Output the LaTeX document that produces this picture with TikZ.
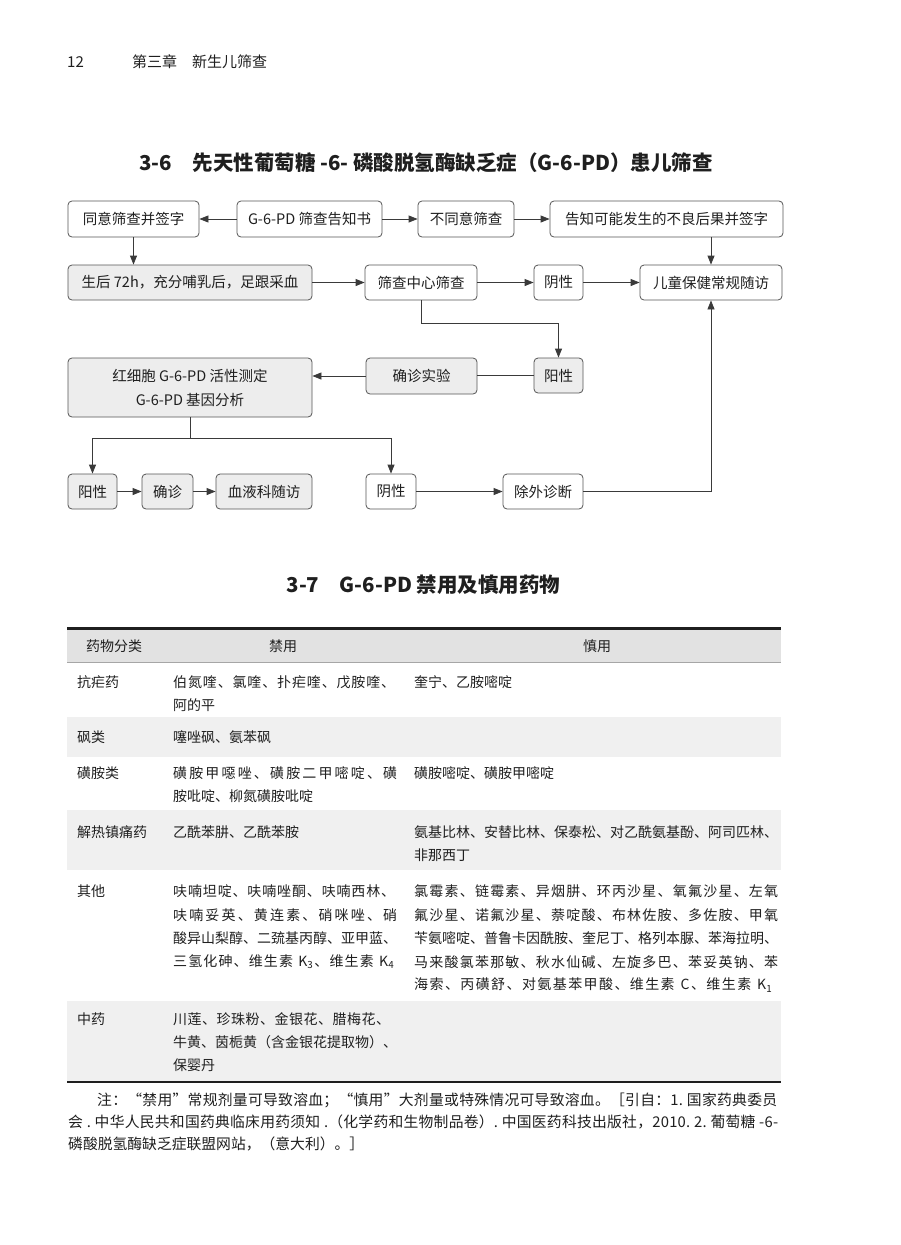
\documentclass[tikz,border=0pt]{standalone}
\usepackage{fontspec}
\setmainfont{Noto Sans CJK SC}
\usepackage{graphicx}
\usetikzlibrary{arrows.meta}
\definecolor{boxline}{HTML}{555555}
\definecolor{boxfill}{HTML}{EDEDED}
\definecolor{arrc}{HTML}{3A3A3A}
\definecolor{txt}{HTML}{1F1F1F}
\definecolor{hdrfill}{HTML}{E2E2E2}
\definecolor{rowfill}{HTML}{F0F0F0}
\newcommand{\fs}[1]{\fontsize{#1}{#1}\selectfont}
\makeatletter
\newcommand{\spreadto}[2]{\makebox[#1][s]{\spr@a#2\relax}}
\def\spr@a#1{#1\spr@b}
\def\spr@b#1{\ifx\relax#1\else\hfill#1\expandafter\spr@b\fi}
\makeatother
\tikzset{
  box/.style={draw=boxline, line width=0.8pt, rounded corners=4pt, fill=white, inner sep=0pt, text=txt, font=\fs{14.5}},
  gbox/.style={box, fill=boxfill},
  arr/.style={draw=arrc, line width=0.8pt, -{Triangle[length=9pt,width=7pt]}},
  ln/.style={draw=arrc, line width=0.8pt},
  cell/.style={anchor=west, inner sep=0pt, text=txt, font=\fs{14}},
  ccell/.style={anchor=center, inner sep=0pt, text=txt, font=\fs{14}},
  note/.style={anchor=west, inner sep=0pt, text=txt, font=\fs{14.8}},
  ttl/.style={inner sep=0pt, text=txt, font=\bfseries\fs{20.5}}
}
\begin{document}
\begin{tikzpicture}[x=1pt,y=-1pt]
\useasboundingbox (0,0) rectangle (900,1245);
\fill[white] (0,0) rectangle (900,1245);

% page header
\node[anchor=west, inner sep=0pt, text=txt, font=\fs{15}] (pg) at (67,62) {12};
\node[anchor=west, inner sep=0pt, text=txt, font=\fs{15}] (ch) at (132,62) {第三章　新生儿筛查};

% title 3-6
\node[ttl] (t36) at (426,163) {3-6\hspace{1em}先天性葡萄糖 -6- 磷酸脱氢酶缺乏症（G-6-PD）患儿筛查};

% flowchart row A
\node[box, minimum width=131pt, minimum height=36pt] (a1) at (133.5,219) {同意筛查并签字};
\node[box, minimum width=145pt, minimum height=36pt] (a2) at (309.5,219) {G-6-PD 筛查告知书};
\node[box, minimum width=96pt, minimum height=36pt] (a3) at (466,219) {不同意筛查};
\node[box, minimum width=233pt, minimum height=36pt] (a4) at (666.5,219) {告知可能发生的不良后果并签字};
% row B
\node[gbox, minimum width=244pt, minimum height=35pt] (b1) at (190,282.5) {生后 72h，充分哺乳后，足跟采血};
\node[box, minimum width=112pt, minimum height=35pt] (b2) at (421,282.5) {筛查中心筛查};
\node[box, minimum width=49pt, minimum height=35pt] (b3) at (558.5,282.5) {阴性};
\node[box, minimum width=142pt, minimum height=35pt] (b4) at (711,282.5) {儿童保健常规随访};
% row C
\node[gbox, minimum width=244pt, minimum height=59pt, align=center, font=\fontsize{14.5}{24}\selectfont] (c1) at (190,387.5) {红细胞 G-6-PD 活性测定\\G-6-PD 基因分析};
\node[gbox, minimum width=111pt, minimum height=36pt] (c2) at (421.5,376) {确诊实验};
\node[gbox, minimum width=49pt, minimum height=35pt] (c3) at (558.5,375.5) {阳性};
% row D
\node[gbox, minimum width=49pt, minimum height=35pt] (d1) at (92.5,491.5) {阳性};
\node[gbox, minimum width=51pt, minimum height=35pt] (d2) at (167.5,491.5) {确诊};
\node[gbox, minimum width=96pt, minimum height=35pt] (d3) at (264,491.5) {血液科随访};
\node[box, minimum width=50pt, minimum height=35pt] (d4) at (391,491.5) {阴性};
\node[box, minimum width=80pt, minimum height=35pt] (d5) at (543,491.5) {除外诊断};

\coordinate (k1) at (0,323);
\coordinate (k2) at (0,438);
\draw[arr] (a2.west) -- (a1.east);
\draw[arr] (a2.east) -- (a3.west);
\draw[arr] (a3.east) -- (a4.west);
\draw[arr] (a1.south) -- (a1.south |- b1.north);
\draw[arr] (b4.north |- a4.south) -- (b4.north);
\draw[arr] (b1.east) -- (b2.west);
\draw[arr] (b2.east) -- (b3.west);
\draw[arr] (b3.east) -- (b4.west);
\draw[arr] (b2.south) -- (b2.south |- k1) -| (c3.north);
\draw[ln] (c3.west) -- (c3.west -| c2.east);
\draw[arr] (c2.west) -- (c2.west -| c1.east);
\draw[ln] (c1.south) -- (c1.south |- k2);
\draw[ln] (d1.north |- k2) -- (d4.north |- k2);
\draw[arr] (d1.north |- k2) -- (d1.north);
\draw[arr] (d4.north |- k2) -- (d4.north);
\draw[arr] (d1.east) -- (d2.west);
\draw[arr] (d2.east) -- (d3.west);
\draw[arr] (d4.east) -- (d5.west);
\draw[arr] (d5.east) -| (b4.south);

% title 3-7
\node[ttl] (t37) at (423.5,585) {3-7\hspace{1em}G-6-PD 禁用及慎用药物};

% table backgrounds and rules
\fill[hdrfill] (67,629) rectangle (781,662);
\fill[rowfill] (67,717) rectangle (781,757);
\fill[rowfill] (67,810) rectangle (781,870);
\fill[rowfill] (67,1001) rectangle (781,1081);
\draw[line width=0.6pt, draw=gray!70] (67,662) -- (781,662);
\draw[line width=2.2pt, draw=txt] (67,628.5) -- (781,628.5);
\draw[line width=2.2pt, draw=txt] (67,1082) -- (781,1082);

% header
\node[cell] (h1) at (86,646) {药物分类};
\node[ccell] (h2) at (283,646) {禁用};
\node[ccell] (h3) at (597,646) {慎用};

% row 1
\node[cell] (r1a) at (77,682) {抗疟药};
\node[cell] (r1b) at (173,682) {\spreadto{222pt}{伯氮喹、氯喹、扑疟喹、戊胺喹、}};
\node[cell] (r1c) at (173,705) {阿的平};
\node[cell] (r1d) at (414,682) {奎宁、乙胺嘧啶};
% row 2
\node[cell] (r2a) at (77,737) {砜类};
\node[cell] (r2b) at (173,737) {噻唑砜、氨苯砜};
% row 3
\node[cell] (r3a) at (77,773) {磺胺类};
\node[cell] (r3b) at (173,773) {\spreadto{224pt}{磺胺甲噁唑、磺胺二甲嘧啶、磺}};
\node[cell] (r3c) at (173,796) {胺吡啶、柳氮磺胺吡啶};
\node[cell] (r3d) at (414,773) {磺胺嘧啶、磺胺甲嘧啶};
% row 4
\node[cell] (r4a) at (77,832) {解热镇痛药};
\node[cell] (r4b) at (173,832) {乙酰苯肼、乙酰苯胺};
\node[cell] (r4c) at (414,832) {\spreadto{364pt}{氨基比林、安替比林、保泰松、对乙酰氨基酚、阿司匹林、}};
\node[cell] (r4d) at (414,855) {非那西丁};
% row 5
\node[cell] (r5a) at (77,891) {其他};
\node[cell] (r5b) at (173,891) {\spreadto{222pt}{呋喃坦啶、呋喃唑酮、呋喃西林、}};
\node[cell] (r5c) at (173,915) {\spreadto{224pt}{呋喃妥英、黄连素、硝咪唑、硝}};
\node[cell] (r5d) at (173,938) {\spreadto{224pt}{酸异山梨醇、二巯基丙醇、亚甲蓝、}};
\node[cell] (r5e) at (173,962) {\spreadto{221pt}{三氢化砷、维生素~{K\textsubscript{3}}、维生素~{K\textsubscript{4}}}};
\node[cell] (r5f) at (414,891) {\spreadto{364pt}{氯霉素、链霉素、异烟肼、环丙沙星、氧氟沙星、左氧}};
\node[cell] (r5g) at (414,915) {\spreadto{364pt}{氟沙星、诺氟沙星、萘啶酸、布林佐胺、多佐胺、甲氧}};
\node[cell] (r5h) at (414,938) {\spreadto{364pt}{苄氨嘧啶、普鲁卡因酰胺、奎尼丁、格列本脲、苯海拉明、}};
\node[cell] (r5i) at (414,962) {\spreadto{364pt}{马来酸氯苯那敏、秋水仙碱、左旋多巴、苯妥英钠、苯}};
\node[cell] (r5j) at (414,985) {\spreadto{358pt}{海索、丙磺舒、对氨基苯甲酸、维生素~C、维生素~{K\textsubscript{1}}}};
% row 6
\node[cell] (r6a) at (77,1019) {中药};
\node[cell] (r6b) at (173,1019) {\spreadto{217pt}{川莲、珍珠粉、金银花、腊梅花、}};
\node[cell] (r6c) at (173,1042) {牛黄、茵栀黄（含金银花提取物）、};
\node[cell] (r6d) at (173,1065) {保婴丹};

% note
\node[note] (n1) at (97,1100) {\spreadto{680pt}{注：“禁用”常规剂量可导致溶血；“慎用”大剂量或特殊情况可导致溶血。［引自：1.~国家药典委员}};
\node[note] (n2) at (68,1122) {\spreadto{710pt}{会~.~中华人民共和国药典临床用药须知~.（化学药和生物制品卷）.~中国医药科技出版社，2010.~2.~葡萄糖~-6-}};
\node[note] (n3) at (68,1144) {磷酸脱氢酶缺乏症联盟网站，（意大利）。］};
\end{tikzpicture}
\end{document}
